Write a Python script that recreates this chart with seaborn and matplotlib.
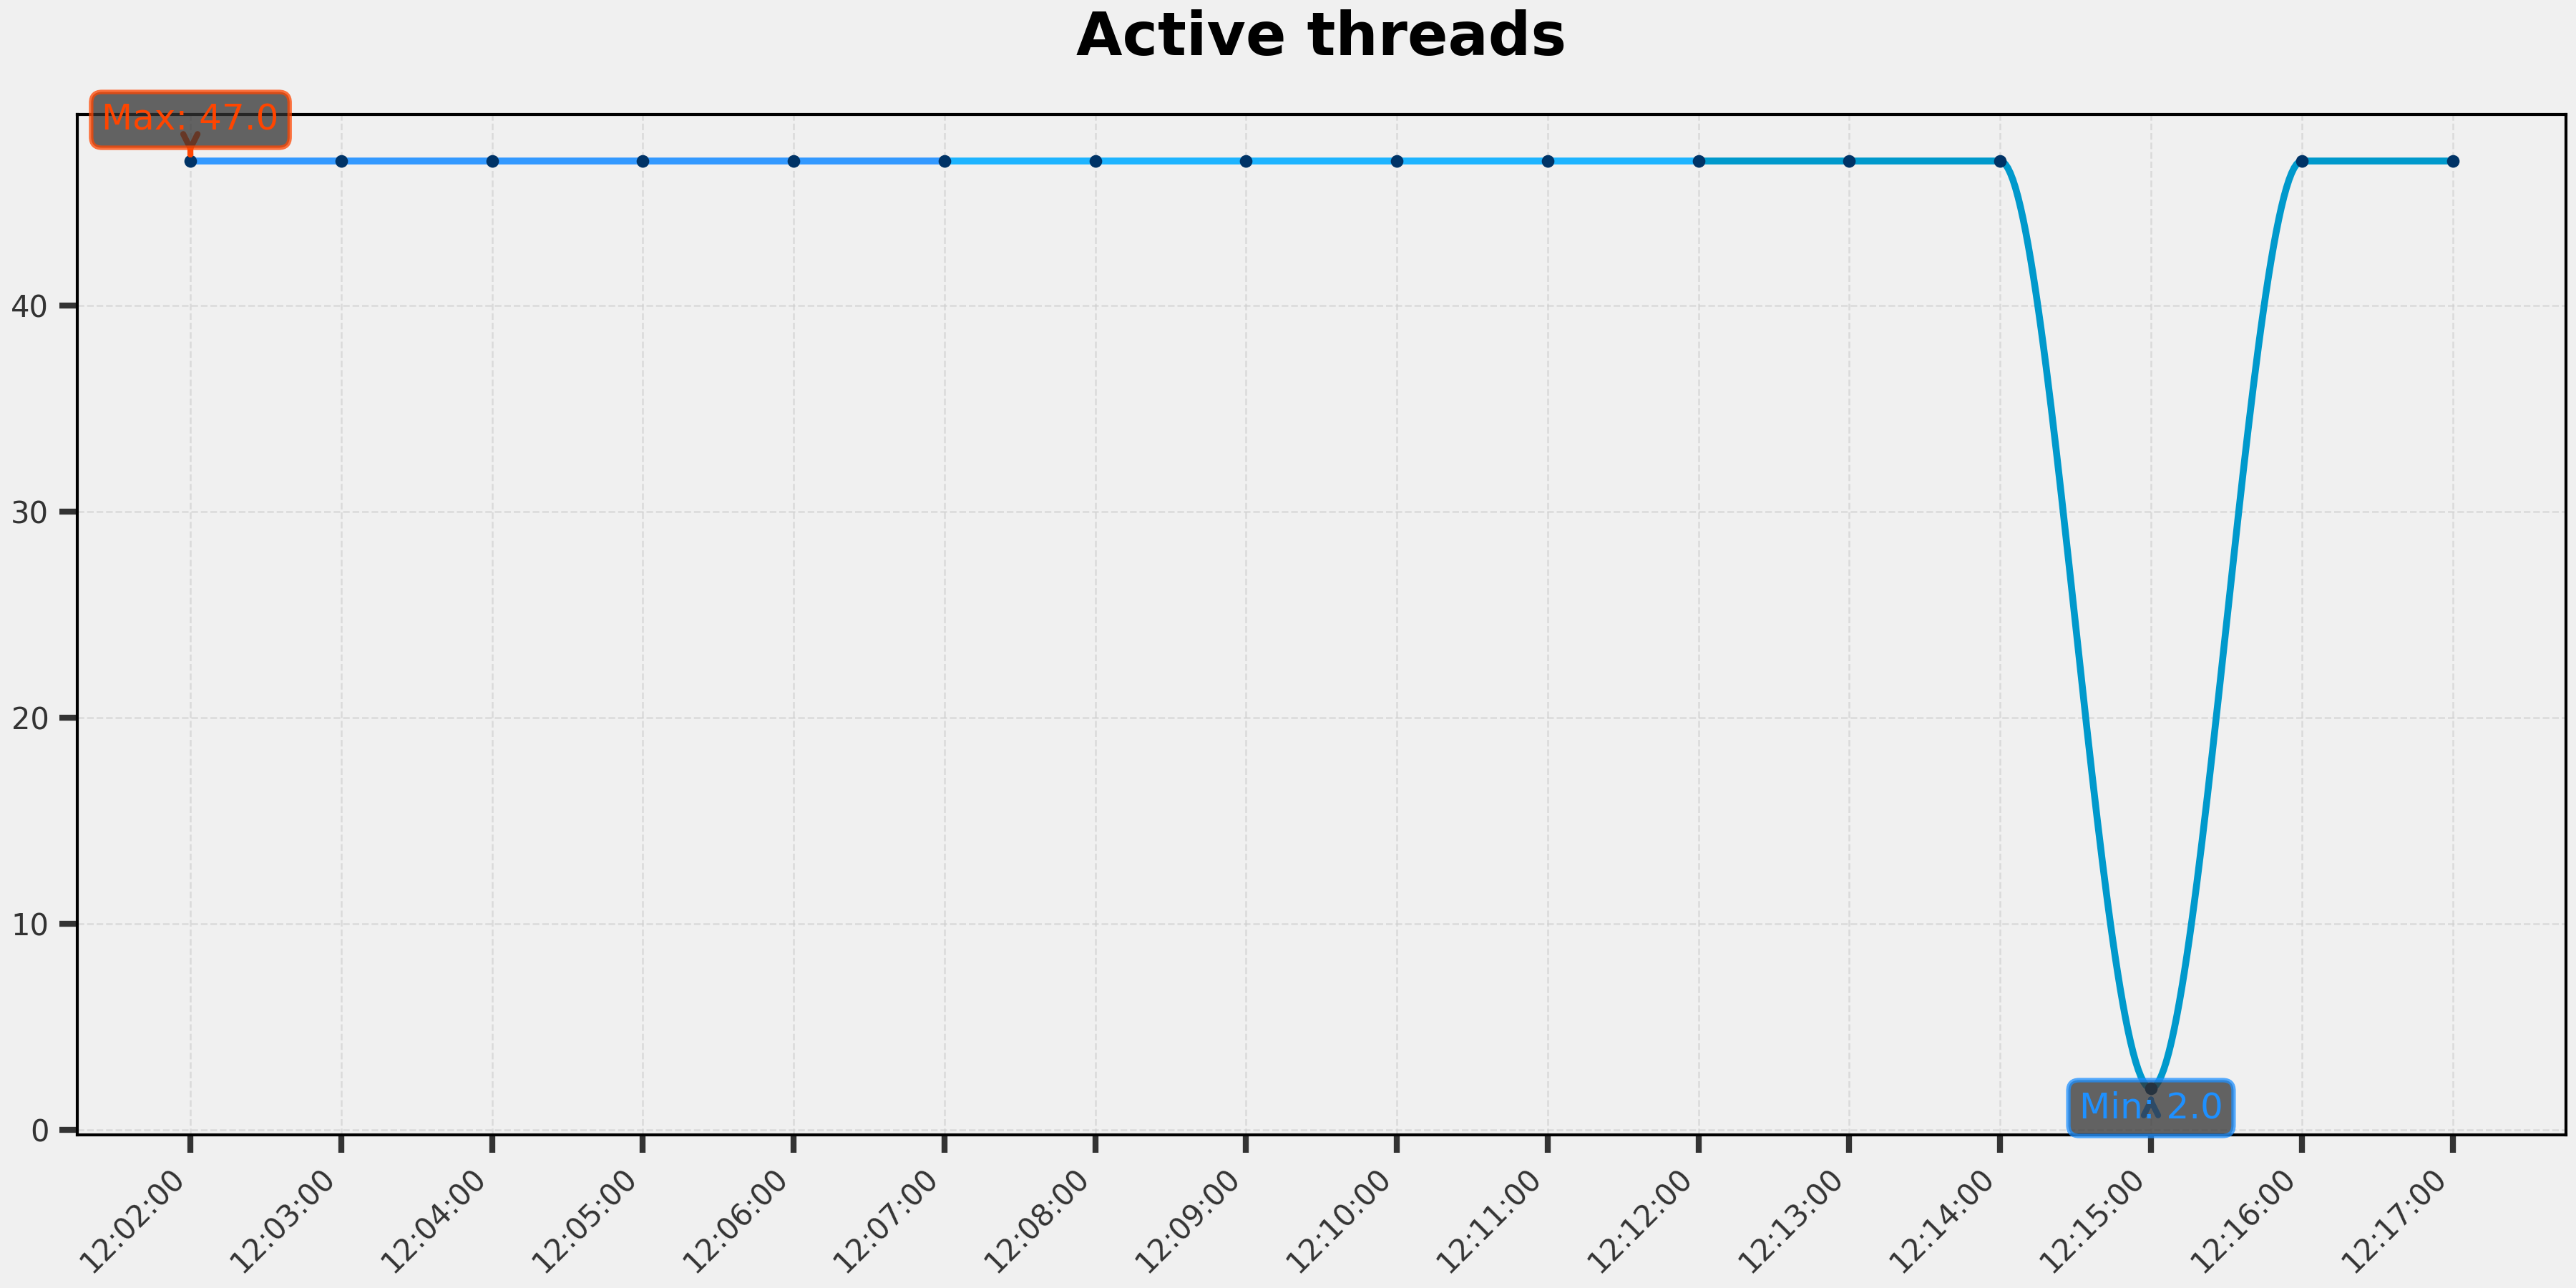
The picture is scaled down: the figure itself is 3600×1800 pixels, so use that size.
import numpy as np
import pandas as pd
import matplotlib
matplotlib.use("Agg")
import matplotlib.pyplot as plt
import matplotlib.dates as mdates
import seaborn as sns

# Sample times and thread counts
times = ["12:02:00", "12:03:00", "12:04:00", "12:05:00", "12:06:00", "12:07:00",
         "12:08:00", "12:09:00", "12:10:00", "12:11:00", "12:12:00", "12:13:00",
         "12:14:00", "12:15:00", "12:16:00", "12:17:00"]
threads = [47, 47, 47, 47, 47, 47, 47, 47, 47, 47, 47, 47, 47, 2, 47, 47]

# Line is drawn in three colour bands (index ranges of the points)
bands = [(0, 5), (5, 10), (10, 15)]
band_colors = ["#3399FF", "#1EB4FF", "#0099CC"]

bg = "#f0f0f0"

sns.set_theme(style="whitegrid")
plt.rcParams["font.family"] = ["DejaVu Sans"]

x = mdates.date2num(pd.to_datetime(times, format="%H:%M:%S"))
y = np.array(threads, dtype=float)


# monotone cubic (pchip-like) smoothing between the points, for drawing only
def pchip_slopes(x, y):
    h = np.diff(x)
    d = np.diff(y) / h
    m = np.zeros_like(y)
    m[0], m[-1] = d[0], d[-1]
    for k in range(1, len(y) - 1):
        if d[k - 1] * d[k] > 0:
            w1 = 2 * h[k] + h[k - 1]
            w2 = h[k] + 2 * h[k - 1]
            m[k] = (w1 + w2) / (w1 / d[k - 1] + w2 / d[k])
    return m


def smooth_interval(x, y, m, i, n=60):
    t = np.linspace(0, 1, n)
    h = x[i + 1] - x[i]
    h00 = 2 * t**3 - 3 * t**2 + 1
    h10 = t**3 - 2 * t**2 + t
    h01 = -2 * t**3 + 3 * t**2
    h11 = t**3 - t**2
    yy = h00 * y[i] + h10 * h * m[i] + h01 * y[i + 1] + h11 * h * m[i + 1]
    return x[i] + t * h, yy


slopes = pchip_slopes(x, y)

fig, ax = plt.subplots(figsize=(12, 6), dpi=300)
fig.patch.set_facecolor(bg)
ax.set_facecolor(bg)

for (a, b), c in zip(bands, band_colors):
    xs, ys = [], []
    for i in range(a, b):
        sx, sy = smooth_interval(x, y, slopes, i)
        xs.append(sx)
        ys.append(sy)
    xs = np.concatenate(xs)
    ys = np.concatenate(ys)
    sns.lineplot(x=xs, y=ys, color=c, linewidth=2.3, sort=False,
                 estimator=None, ax=ax, zorder=3)

sns.scatterplot(x=x, y=y, color="#003366", s=18, linewidth=0, ax=ax, zorder=5)

# max / min callouts
i_max = int(np.argmax(y))
i_min = int(np.argmin(y))
ax.annotate(f"Max: {y[i_max]:.1f}", xy=(x[i_max], y[i_max]),
            xytext=(0, 13.8), textcoords="offset points",
            ha="center", va="center", fontsize=12, color="#FF4500",
            bbox=dict(boxstyle="round,pad=0.3", fc="#333333", ec="#FF4500",
                      lw=1.5, alpha=0.75),
            arrowprops=dict(arrowstyle="->", color="#FF4500", lw=2),
            zorder=6)
ax.annotate(f"Min: {y[i_min]:.1f}", xy=(x[i_min], y[i_min]),
            xytext=(0, -6.6), textcoords="offset points",
            ha="center", va="center", fontsize=12, color="#1E90FF",
            bbox=dict(boxstyle="round,pad=0.3", fc="#333333", ec="#1E90FF",
                      lw=1.5, alpha=0.75),
            arrowprops=dict(arrowstyle="->", color="#1E90FF", lw=2),
            zorder=6)

ax.set_xticks(x)
ax.set_xticklabels(times, rotation=45, ha="right")
ax.set_yticks([0, 10, 20, 30, 40])
ax.tick_params(axis="both", labelsize=10, labelcolor="#333333", color="#333333",
               length=6, width=2, bottom=True, left=True)

ax.grid(True, linestyle="--", color="#cccccc", linewidth=0.6, alpha=0.6)
for s in ax.spines.values():
    s.set_visible(True)
    s.set_color("black")
    s.set_linewidth(1.0)

ax.set_xlabel("")
ax.set_ylabel("")
ax.set_title("Active threads", fontsize=20, fontweight="bold", color="black", pad=20)

fig.subplots_adjust(left=0.030, right=0.996, top=0.911, bottom=0.119)
fig.savefig("out.png", dpi=300, facecolor=bg)
